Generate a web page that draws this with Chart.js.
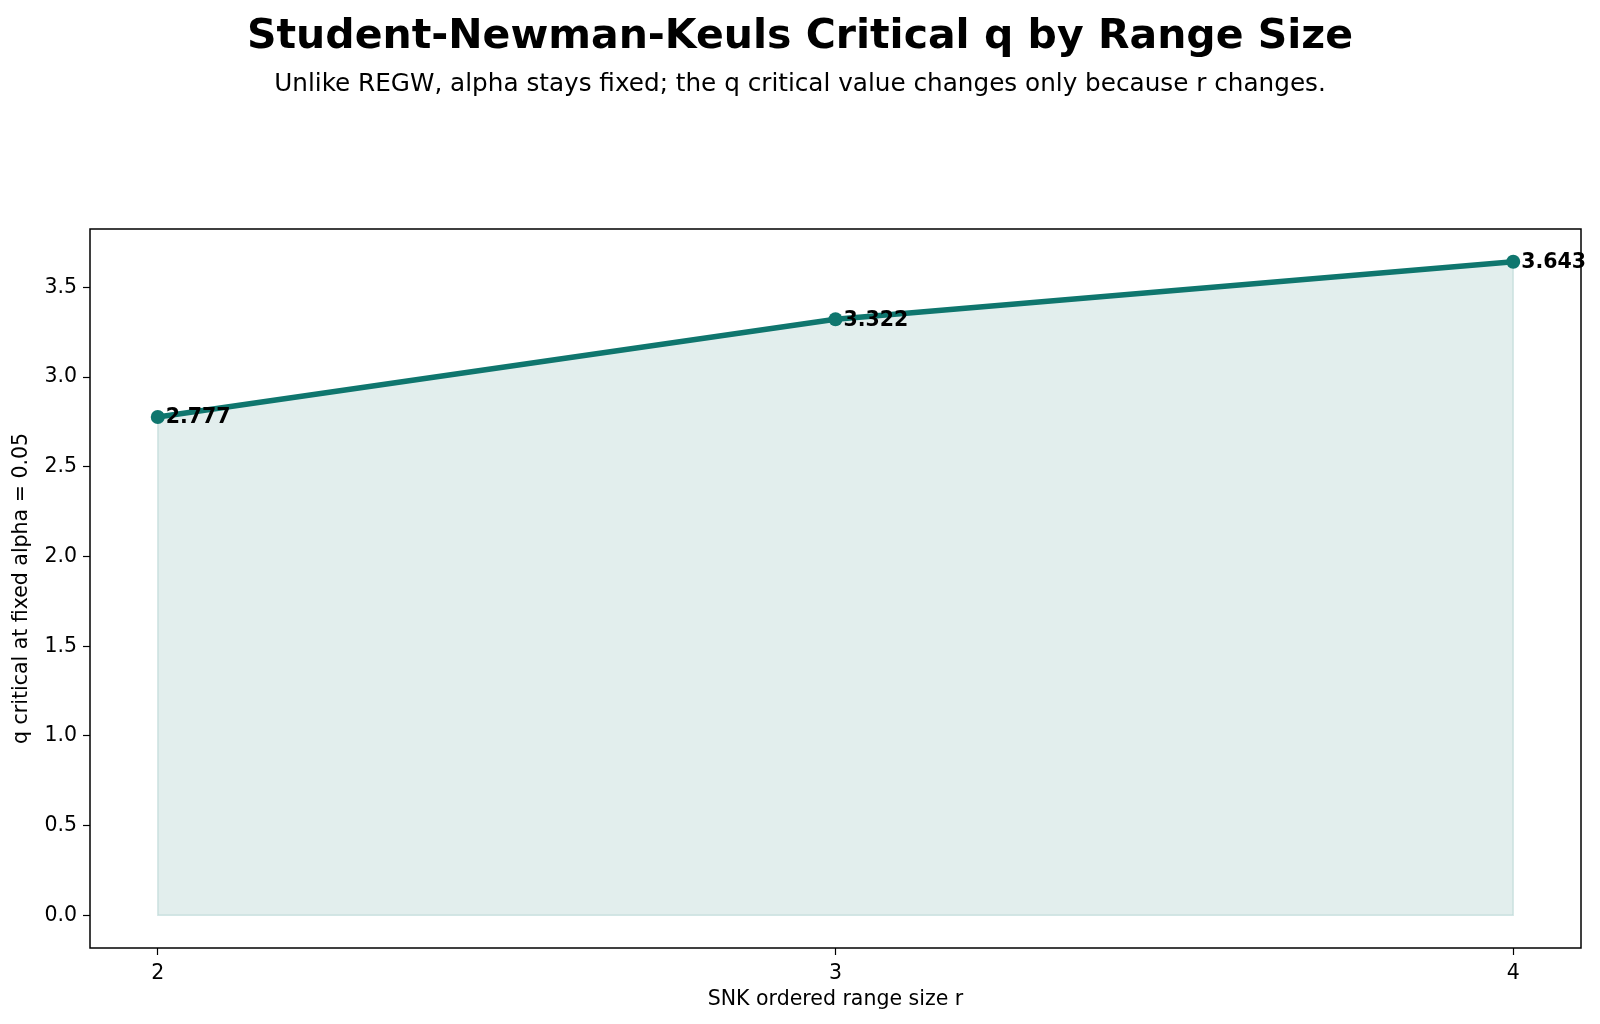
<!DOCTYPE html>
<html>
<head>
<meta charset="utf-8">
<script src="https://cdn.jsdelivr.net/npm/chart.js@4.4.1/dist/chart.umd.min.js"></script>
<style>
  html, body { margin: 0; padding: 0; background: #fff; }
  #wrap { width: 1600px; height: 1024px; position: relative; }
</style>
</head>
<body>
<div id="wrap"><canvas id="snk-chart" width="1600" height="1024"></canvas></div>
<script>
const rangeSizes = [2, 3, 4];
const qCritical = [2.777, 3.322, 3.643];
const yTicks = [0.0, 0.5, 1.0, 1.5, 2.0, 2.5, 3.0, 3.5];

const titleText = "Student-Newman-Keuls Critical q by Range Size";
const subtitleText = "Unlike REGW, alpha stays fixed; the q critical value changes only because r changes.";
const xTitle = "SNK ordered range size r";
const yTitle = "q critical at fixed alpha = 0.05";

const teal = "rgba(15, 118, 110, 1)";
const tealFill = "rgba(15, 118, 110, 0.12)";
const tealEdge = "rgba(15, 118, 110, 0.16)";
const fontFamily = "'DejaVu Sans', sans-serif";

const points = rangeSizes.map((r, i) => ({ x: r, y: qCritical[i] }));

// titles, frame, fill edge and value labels
const decorations = {
    id: "decorations",
    beforeDatasetsDraw(chart) {
        const { ctx } = chart;
        const xs = chart.scales.x, ys = chart.scales.y;
        ctx.save();
        ctx.strokeStyle = tealEdge;
        ctx.lineWidth = 1.5;
        ctx.beginPath();
        ctx.moveTo(xs.getPixelForValue(rangeSizes[0]), ys.getPixelForValue(qCritical[0]));
        ctx.lineTo(xs.getPixelForValue(rangeSizes[0]), ys.getPixelForValue(0));
        ctx.lineTo(xs.getPixelForValue(rangeSizes[rangeSizes.length - 1]), ys.getPixelForValue(0));
        ctx.lineTo(xs.getPixelForValue(rangeSizes[rangeSizes.length - 1]), ys.getPixelForValue(qCritical[qCritical.length - 1]));
        ctx.stroke();
        ctx.restore();
    },
    afterDatasetsDraw(chart) {
        const { ctx, chartArea: a } = chart;
        const xs = chart.scales.x, ys = chart.scales.y;
        ctx.save();
        ctx.strokeStyle = "#000";
        ctx.lineWidth = 1.5;
        ctx.strokeRect(a.left, a.top, a.right - a.left, a.bottom - a.top);

        ctx.fillStyle = "#000";
        ctx.textAlign = "left";
        ctx.textBaseline = "middle";
        ctx.font = "bold 20.5px " + fontFamily;
        rangeSizes.forEach((r, i) => {
            ctx.fillText(qCritical[i].toFixed(3), xs.getPixelForValue(r) + 8, ys.getPixelForValue(qCritical[i]) + 1);
        });

        ctx.textAlign = "center";
        ctx.textBaseline = "alphabetic";
        ctx.font = "bold 41px " + fontFamily;
        ctx.fillText(titleText, 800, 48);
        ctx.font = "24.7px " + fontFamily;
        ctx.fillText(subtitleText, 800, 91);

        ctx.font = "20.5px " + fontFamily;
        ctx.textBaseline = "middle";
        ctx.fillText(xTitle, (a.left + a.right) / 2, 1000);
        ctx.translate(22, (a.top + a.bottom) / 2);
        ctx.rotate(-Math.PI / 2);
        ctx.fillText(yTitle, 0, 0);
        ctx.restore();
    }
};

new Chart(document.getElementById("snk-chart").getContext("2d"), {
    type: "line",
    data: {
        datasets: [
            {
                data: points,
                borderColor: teal,
                borderWidth: 5.5,
                backgroundColor: tealFill,
                fill: "origin",
                tension: 0,
                pointRadius: 7,
                pointBackgroundColor: teal,
                pointBorderColor: teal,
                pointBorderWidth: 0,
                clip: false,
            },
        ],
    },
    options: {
        responsive: false,
        animation: false,
        layout: { padding: { left: 0, top: 229, right: 19, bottom: 0 } },
        plugins: {
            legend: { display: false },
            tooltip: { enabled: false },
        },
        scales: {
            x: {
                type: "linear",
                min: 1.9,
                max: 4.1,
                afterBuildTicks: (scale) => {
                    scale.ticks = rangeSizes.map((v) => ({ value: v }));
                },
                afterFit: (scale) => { scale.height = 76; },
                ticks: {
                    color: "#000",
                    font: { family: fontFamily, size: 20.5 },
                    padding: 6,
                    callback: (v) => String(v),
                },
                grid: {
                    drawOnChartArea: false,
                    color: "#000",
                    tickLength: 7,
                    tickWidth: 1.2,
                },
                border: { display: false },
            },
            y: {
                min: -0.1822,
                max: 3.8252,
                afterBuildTicks: (scale) => {
                    scale.ticks = yTicks.map((v) => ({ value: v }));
                },
                afterFit: (scale) => { scale.width = 90; },
                ticks: {
                    color: "#000",
                    font: { family: fontFamily, size: 20.5 },
                    padding: 6,
                    callback: (v) => Number(v).toFixed(1),
                },
                grid: {
                    drawOnChartArea: false,
                    color: "#000",
                    tickLength: 7,
                    tickWidth: 1.2,
                },
                border: { display: false },
            },
        },
    },
    plugins: [decorations],
});
</script>
</body>
</html>
